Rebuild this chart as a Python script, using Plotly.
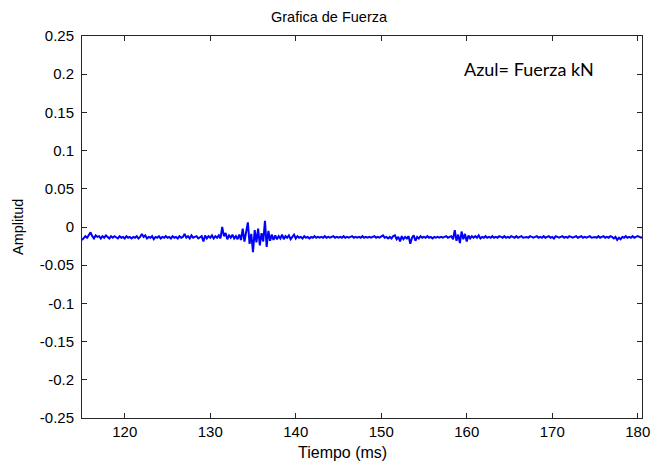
import numpy as np
import plotly.graph_objects as go

# ---------------- Datos ---------------- #
# muestreo: inicio 115 ms, paso 0.2 ms
tiempo_inicio = 115.0
paso_ms = 0.2

fuerza = [
    -0.017, -0.015, -0.012, -0.014, -0.010, -0.007, -0.012, -0.015, -0.011, -0.013,  # 115
    -0.012, -0.015, -0.012, -0.014, -0.011, -0.013, -0.015, -0.012, -0.014, -0.012,  # 117
    -0.013, -0.015, -0.012, -0.014, -0.013, -0.015, -0.012, -0.014, -0.013, -0.015,  # 119
    -0.013, -0.014, -0.012, -0.015, -0.013, -0.009, -0.013, -0.011, -0.015, -0.013,  # 121
    -0.014, -0.012, -0.016, -0.013, -0.014, -0.012, -0.015, -0.013, -0.014, -0.012,  # 123
    -0.014, -0.013, -0.015, -0.012, -0.014, -0.013, -0.015, -0.012, -0.014, -0.013,  # 125
    -0.009, -0.014, -0.012, -0.015, -0.011, -0.014, -0.013, -0.012, -0.015, -0.013,  # 127
    -0.012, -0.019, -0.011, -0.015, -0.012, -0.014, -0.011, -0.015, -0.012, -0.014,  # 129
    -0.011, -0.015, 0.000, -0.012, -0.008, -0.016, -0.011, -0.014, -0.010, -0.015,   # 131
    -0.012, -0.016, -0.010, -0.017, -0.002, -0.019, -0.006, 0.006, -0.022, -0.009,   # 133
    -0.033, -0.004, -0.020, -0.002, -0.024, -0.008, -0.019, 0.008, -0.026, -0.005,   # 135
    -0.018, -0.010, -0.017, -0.011, -0.016, -0.012, -0.015, -0.010, -0.016, -0.012,  # 137
    -0.014, -0.011, -0.016, -0.013, -0.010, -0.015, -0.012, -0.014, -0.013, -0.015,  # 139
    -0.012, -0.014, -0.013, -0.015, -0.013, -0.014, -0.012, -0.014, -0.013, -0.014,  # 141
    -0.013, -0.014, -0.012, -0.014, -0.013, -0.014, -0.013, -0.012, -0.014, -0.013,  # 143
    -0.014, -0.013, -0.014, -0.012, -0.014, -0.013, -0.014, -0.013, -0.012, -0.014,  # 145
    -0.013, -0.014, -0.013, -0.014, -0.012, -0.014, -0.013, -0.014, -0.013, -0.014,  # 147
    -0.013, -0.012, -0.014, -0.013, -0.014, -0.013, -0.011, -0.014, -0.013, -0.015,  # 149
    -0.013, -0.015, -0.012, -0.011, -0.016, -0.013, -0.019, -0.012, -0.016, -0.013,  # 151
    -0.015, -0.012, -0.022, -0.014, -0.011, -0.018, -0.013, -0.015, -0.012, -0.014,  # 153
    -0.013, -0.014, -0.012, -0.014, -0.013, -0.015, -0.013, -0.014, -0.013, -0.014,  # 155
    -0.013, -0.014, -0.013, -0.012, -0.014, -0.013, -0.012, -0.016, -0.004, -0.018,  # 157
    -0.010, -0.021, -0.006, -0.016, -0.009, -0.019, -0.011, -0.015, -0.012, -0.014,  # 159
    -0.012, -0.014, -0.011, -0.015, -0.013, -0.014, -0.012, -0.014, -0.013, -0.014,  # 161
    -0.012, -0.014, -0.013, -0.014, -0.012, -0.013, -0.014, -0.012, -0.014, -0.013,  # 163
    -0.014, -0.012, -0.013, -0.014, -0.012, -0.014, -0.013, -0.012, -0.014, -0.013,  # 165
    -0.013, -0.014, -0.012, -0.013, -0.014, -0.013, -0.012, -0.014, -0.013, -0.014,  # 167
    -0.012, -0.014, -0.013, -0.012, -0.014, -0.013, -0.015, -0.012, -0.013, -0.014,  # 169
    -0.013, -0.012, -0.014, -0.013, -0.014, -0.012, -0.013, -0.014, -0.013, -0.012,  # 171
    -0.014, -0.013, -0.012, -0.014, -0.013, -0.014, -0.013, -0.012, -0.014, -0.013,  # 173
    -0.013, -0.014, -0.012, -0.014, -0.013, -0.012, -0.014, -0.013, -0.014, -0.012,  # 175
    -0.013, -0.015, -0.013, -0.017, -0.014, -0.016, -0.013, -0.014, -0.012, -0.014,  # 177
    -0.013, -0.014, -0.012, -0.014, -0.013, -0.012, -0.013, -0.014, -0.013, -0.013,  # 179
]

x_ticks = [120, 130, 140, 150, 160, 170, 180]
y_ticks = [0.25, 0.2, 0.15, 0.1, 0.05, 0, -0.05, -0.1, -0.15, -0.2, -0.25]
y_tick_labels = ["0.25", "0.2", "0.15", "0.1", "0.05", "0",
                 "-0.05", "-0.1", "-0.15", "-0.2", "-0.25"]

tiempo = tiempo_inicio + paso_ms * np.arange(len(fuerza))

# ---------------- Figura ---------------- #
# la pagina deja 8 px de margen, asi que la figura es 8 px mas chica
fig = go.Figure()
fig.add_trace(go.Scatter(x=tiempo, y=fuerza, mode="lines",
                         line=dict(color="#0000FF", width=2),
                         showlegend=False))

txt_font = dict(family="Liberation Sans", size=14.5, color="black")
axis_style = dict(showline=True, linecolor="#262626", linewidth=1, mirror="ticks",
                  ticks="inside", ticklen=5, tickcolor="#262626",
                  showgrid=False, zeroline=False, automargin=False,
                  tickfont=dict(family="Liberation Sans", size=15, color="black"))

fig.update_xaxes(range=[115, 180.5], tickvals=x_ticks, **axis_style)
fig.update_yaxes(range=[-0.25, 0.25], tickvals=y_ticks, ticktext=y_tick_labels,
                 ticklabelstandoff=4, **axis_style)

# titulos de ejes
fig.add_annotation(x=0.466, y=-(452 - 418) / 382, xref="paper", yref="paper",
                   text="Tiempo (ms)", showarrow=False,
                   font=dict(family="Liberation Sans", size=16, color="black"),
                   yanchor="middle")
fig.add_annotation(x=-(82 - 18) / 560, y=0.5, xref="paper", yref="paper",
                   text="Amplitud", textangle=-90, showarrow=False, font=txt_font,
                   xanchor="center", yanchor="middle")

fig.add_annotation(x=0.679, y=0.914, xref="paper", yref="paper",
                   xanchor="left", yanchor="middle", showarrow=False,
                   text="Azul= Fuerza kN",
                   font=dict(family="Lato", size=18, color="black"))

fig.update_layout(width=655, height=453,
                  margin=dict(l=74, r=21, t=28, b=43),
                  paper_bgcolor="white", plot_bgcolor="white",
                  title=dict(text="Grafica de Fuerza", x=(329 - 8) / 655,
                             xanchor="center", y=1 - 9 / 453, yanchor="middle",
                             font=txt_font))

fig.write_html("out.html")
